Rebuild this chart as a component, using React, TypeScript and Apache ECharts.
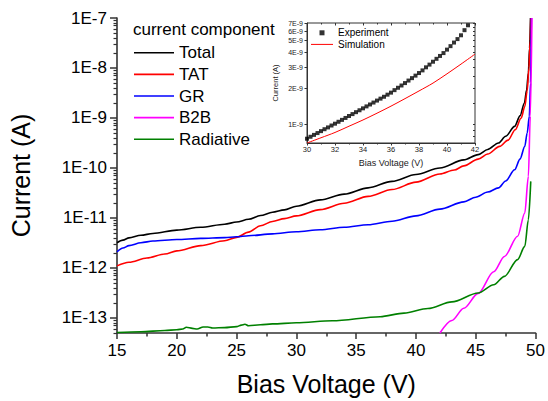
import { useEffect, useRef } from "react";
import * as echarts from "echarts";

// Main plot: Bias voltage (V) vs current (A)
const totalV = [15, 15.5, 16, 17, 18, 20, 22, 24, 25, 26, 27, 28, 29, 30, 32, 34, 36, 38, 40, 42, 44, 45.2, 46, 46.9, 47.5, 48.25, 48.7, 49.07, 49.25, 49.4, 49.5, 49.58];
const totalI = [3.2e-12, 3.6e-12, 4.0e-12, 4.5e-12, 4.9e-12, 5.7e-12, 6.5e-12, 7.5e-12, 8.3e-12, 9.4e-12, 1.12e-11, 1.3e-11, 1.45e-11, 1.72e-11, 2.3e-11, 3.0e-11, 4.0e-11, 5.4e-11, 7.4e-11, 1.0e-10, 1.45e-10, 1.85e-10, 2.35e-10, 3.16e-10, 4.3e-10, 6.8e-10, 1.1e-9, 2.0e-9, 3.6e-9, 7.9e-9, 2.5e-8, 1.0e-7];

const tatV = [15, 16, 17.5, 19, 20, 22, 24, 25, 26, 27, 28, 29, 30, 32, 34, 36, 38, 40, 42, 43.2, 44, 45.2, 46, 47, 47.7, 48.3, 48.8, 49.1, 49.3, 49.45, 49.55, 49.6];
const tatI = [1.1e-12, 1.3e-12, 1.58e-12, 1.9e-12, 2.2e-12, 2.8e-12, 3.5e-12, 4.1e-12, 5.2e-12, 7.0e-12, 8.5e-12, 9.7e-12, 1.1e-11, 1.47e-11, 1.97e-11, 2.7e-11, 3.7e-11, 5.2e-11, 7.6e-11, 9.1e-11, 1.1e-10, 1.5e-10, 1.9e-10, 2.7e-10, 3.6e-10, 5.8e-10, 1.0e-9, 1.7e-9, 3.5e-9, 1.0e-8, 3.5e-8, 1.0e-7];

const grV = [15, 15.5, 16, 17, 18, 20, 22, 24, 25, 26, 28, 30, 32, 34, 36, 38, 40, 42, 44, 45, 46, 46.9, 47.5, 48.25, 48.7, 49.1, 49.3, 49.48, 49.58, 49.65];
const grI = [2.1e-12, 2.5e-12, 2.8e-12, 3.2e-12, 3.45e-12, 3.7e-12, 3.9e-12, 4.05e-12, 4.2e-12, 4.4e-12, 4.8e-12, 5.3e-12, 5.8e-12, 6.5e-12, 7.3e-12, 8.6e-12, 1.1e-11, 1.5e-11, 2.1e-11, 2.6e-11, 3.3e-11, 4.0e-11, 5.5e-11, 9.2e-11, 1.5e-10, 2.7e-10, 5.0e-10, 1.08e-9, 5.0e-9, 1.0e-7];

const b2bV = [42.0, 43, 44, 45.2, 46.5, 47.4, 48.5, 49.1, 49.4, 49.56, 49.7];
const b2bI = [5.0e-14, 8.9e-14, 1.56e-13, 3.1e-13, 8.4e-13, 1.7e-12, 4.3e-12, 1.26e-11, 6.8e-11, 1.08e-9, 1.0e-7];

const radV = [15, 17, 19, 20, 20.5, 20.8, 21.3, 21.7, 22.2, 22.6, 23, 24, 25, 25.4, 25.7, 26, 27, 28, 30, 33, 37, 39, 41, 43, 45.2, 46.5, 47.4, 48.5, 49.1, 49.4, 49.6];
const radI = [5.1e-14, 5.3e-14, 5.6e-14, 5.8e-14, 6.0e-14, 6.5e-14, 6.2e-14, 6.0e-14, 6.6e-14, 6.6e-14, 6.3e-14, 6.4e-14, 6.7e-14, 7.2e-14, 7.5e-14, 7.0e-14, 7.3e-14, 7.6e-14, 8.0e-14, 8.8e-14, 1.06e-13, 1.25e-13, 1.55e-13, 2.1e-13, 3.16e-13, 4.6e-13, 6.8e-13, 1.47e-12, 2.7e-12, 9.2e-12, 5.4e-11];

// Inset: experiment vs simulation
const expV = [30.0, 30.25, 30.5, 30.75, 31.0, 31.25, 31.5, 31.75, 32.0, 32.25, 32.5, 32.75, 33.0, 33.25, 33.5, 33.75, 34.0, 34.25, 34.5, 34.75, 35.0, 35.25, 35.5, 35.75, 36.0, 36.25, 36.5, 36.75, 37.0, 37.25, 37.5, 37.75, 38.0, 38.25, 38.5, 38.75, 39.0, 39.25, 39.5, 39.75, 40.0, 40.25, 40.5, 40.75, 41.0, 41.25, 41.5];
const expI = [7.60e-10, 7.89e-10, 8.18e-10, 8.47e-10, 8.79e-10, 9.12e-10, 9.44e-10, 9.79e-10, 1.014e-9, 1.052e-9, 1.091e-9, 1.132e-9, 1.175e-9, 1.219e-9, 1.265e-9, 1.312e-9, 1.361e-9, 1.413e-9, 1.466e-9, 1.521e-9, 1.58e-9, 1.64e-9, 1.70e-9, 1.77e-9, 1.84e-9, 1.93e-9, 2.02e-9, 2.11e-9, 2.21e-9, 2.32e-9, 2.43e-9, 2.55e-9, 2.68e-9, 2.82e-9, 2.99e-9, 3.15e-9, 3.33e-9, 3.52e-9, 3.72e-9, 3.93e-9, 4.20e-9, 4.49e-9, 4.81e-9, 5.14e-9, 5.53e-9, 6.10e-9, 6.70e-9];

const simV = [30, 31, 32, 33, 34, 35, 36, 37, 38, 39, 40, 41, 42];
const simI = [7.0e-10, 7.74e-10, 8.57e-10, 9.66e-10, 1.089e-9, 1.24e-9, 1.42e-9, 1.64e-9, 1.90e-9, 2.21e-9, 2.64e-9, 3.18e-9, 3.85e-9];

// Tick values
const mainYTicks = [1e-13, 1e-12, 1e-11, 1e-10, 1e-9, 1e-8, 1e-7];
const minorMultipliers = [2, 3, 4, 5, 6, 7, 8, 9];
const minorDecades = [-14, -13, -12, -11, -10, -9, -8];
const insetYTicks = [1e-9, 2e-9, 3e-9, 4e-9, 5e-9, 6e-9, 7e-9];
const insetYMinor = [8e-10, 9e-10, 1e-9, 1.5e-9, 2e-9, 2.5e-9, 3e-9, 3.5e-9, 4e-9, 4.5e-9, 5e-9, 5.5e-9, 6e-9, 6.5e-9, 7e-9];

const FONT = "'Liberation Sans', Arial, Helvetica, sans-serif";
const AX = "#333";

const zip = (xs: number[], ys: number[]) => xs.map((x, i) => [x, ys[i]]);

const mainMinor: number[] = [];
minorDecades.forEach((k) => {
  minorMultipliers.forEach((m) => {
    const v = m * Math.pow(10, k);
    if (v >= 5e-14 && v <= 1e-7) mainMinor.push(v);
  });
});

export default function App() {
  const ref = useRef<HTMLDivElement>(null);
  useEffect(() => {
    if (!ref.current) return;
    const chart = echarts.init(ref.current, undefined, { renderer: "svg" });
    const lineSeries = (name: string, xs: number[], ys: number[], color: string) => ({
      name,
      type: "line",
      xAxisIndex: 0,
      yAxisIndex: 0,
      data: zip(xs, ys),
      symbol: "none",
      smooth: 0.3,
      smoothMonotone: "x",
      lineStyle: { color, width: 1.6 },
      itemStyle: { color },
      z: 3,
    });
    const mainIcon = "path://M0,0H40V1.6H0Z";
    const option: any = {
      animation: false,
      backgroundColor: "#fff",
      textStyle: { fontFamily: FONT, color: "#000" },
      grid: [
        { left: 112, top: 18, width: 426, height: 315 },
        { left: 307, top: 23, width: 168, height: 120, show: true, borderColor: AX, borderWidth: 1, backgroundColor: "#fff", z: 5 },
      ],
      xAxis: [
        {
          gridIndex: 0, type: "value", min: 15, max: 50, interval: 5, position: "bottom",
          name: "Bias Voltage (V)", nameLocation: "middle", nameGap: 38,
          nameTextStyle: { fontSize: 25, color: "#000", fontFamily: FONT },
          axisLine: { lineStyle: { color: AX, width: 1.6 } },
          axisTick: { length: 6, lineStyle: { color: AX, width: 1.5 } },
          minorTick: { show: true, splitNumber: 2, length: 3.5, lineStyle: { color: AX, width: 1.5 } },
          axisLabel: { fontSize: 17, color: "#000", margin: 9, fontFamily: FONT },
          splitLine: { show: false },
        },
        {
          gridIndex: 1, type: "value", min: 30, max: 42, interval: 2, position: "bottom",
          name: "Bias Voltage (V)", nameLocation: "middle", nameGap: 15,
          nameTextStyle: { fontSize: 9, color: "#222", fontFamily: FONT },
          axisLine: { lineStyle: { color: AX, width: 1 } },
          axisTick: { length: 2.5, lineStyle: { color: AX, width: 1 } },
          minorTick: { show: true, splitNumber: 2, length: 1.5, lineStyle: { color: AX, width: 1 } },
          axisLabel: { fontSize: 7.5, color: "#222", margin: 2, fontFamily: FONT },
          splitLine: { show: false },
          z: 6,
        },
        {
          gridIndex: 1, type: "value", min: 30, max: 42, interval: 2, position: "top",
          axisLine: { show: false },
          axisTick: { inside: true, length: 2.5, lineStyle: { color: AX, width: 1 } },
          minorTick: { show: true, splitNumber: 2, length: 1.5, lineStyle: { color: AX, width: 1 } },
          axisLabel: { show: false },
          splitLine: { show: false },
          z: 6,
        },
      ],
      yAxis: [
        {
          gridIndex: 0, type: "log", min: 5e-14, max: 1e-7, position: "left",
          name: "Current (A)", nameLocation: "middle", nameGap: 84,
          nameTextStyle: { fontSize: 25, color: "#000", fontFamily: FONT },
          axisLine: { show: true, lineStyle: { color: AX, width: 1.6 } },
          axisTick: { customValues: mainYTicks, length: 7, lineStyle: { color: AX, width: 1.5 } },
          axisLabel: {
            customValues: mainYTicks, fontSize: 17, color: "#000", margin: 10, fontFamily: FONT,
            formatter: (v: number) => "1E" + Math.round(Math.log10(v)),
          },
          splitLine: { show: false },
        },
        {
          gridIndex: 0, type: "log", min: 5e-14, max: 1e-7, position: "left",
          axisLine: { show: false },
          axisTick: { customValues: mainMinor, length: 3.5, lineStyle: { color: AX, width: 1.2 } },
          axisLabel: { show: false },
          splitLine: { show: false },
        },
        {
          gridIndex: 1, type: "log", min: 7e-10, max: 7e-9, position: "left",
          name: "Current (A)", nameLocation: "middle", nameGap: 28,
          nameTextStyle: { fontSize: 7.5, color: "#222", fontFamily: FONT },
          axisLine: { show: true, lineStyle: { color: AX, width: 1 } },
          axisTick: { customValues: insetYTicks, length: 2.5, lineStyle: { color: AX, width: 1 } },
          axisLabel: {
            customValues: insetYTicks, fontSize: 7, color: "#222", margin: 4, fontFamily: FONT,
            formatter: (v: number) => Math.round(v / 1e-9) + "E-9",
          },
          splitLine: { show: false },
          z: 6,
        },
        {
          gridIndex: 1, type: "log", min: 7e-10, max: 7e-9, position: "right",
          axisLine: { show: false },
          axisTick: { inside: true, customValues: insetYMinor, length: 2, lineStyle: { color: AX, width: 1 } },
          axisLabel: { show: false },
          splitLine: { show: false },
          z: 6,
        },
      ],
      legend: [
        {
          data: [
            { name: "Total", icon: mainIcon },
            { name: "TAT", icon: mainIcon },
            { name: "GR", icon: mainIcon },
            { name: "B2B", icon: mainIcon },
            { name: "Radiative", icon: mainIcon },
          ],
          orient: "vertical", left: 134, top: 42, padding: 0, itemWidth: 40, itemHeight: 12, itemGap: 0,
          textStyle: { fontSize: 17, lineHeight: 21.6, color: "#000", fontFamily: FONT },
          selectedMode: false,
        },
        {
          data: [
            { name: "Experiment", icon: "path://M0,0H5V5H0Z" },
            { name: "Simulation", icon: "path://M0,0H22V1H0Z" },
          ],
          orient: "vertical", left: 311, top: 27, padding: 0, itemWidth: 22, itemHeight: 5, itemGap: 0,
          textStyle: { fontSize: 10, lineHeight: 11.6, color: "#000", fontFamily: FONT },
          selectedMode: false,
          z: 10,
        },
      ],
      graphic: [
        {
          type: "text", left: 133, top: 21,
          style: { text: "current component", fontSize: 17, fill: "#000", fontFamily: FONT },
        },
      ],
      series: [
        lineSeries("Total", totalV, totalI, "#000000"),
        lineSeries("TAT", tatV, tatI, "#ff0000"),
        lineSeries("GR", grV, grI, "#0000ff"),
        lineSeries("B2B", b2bV, b2bI, "#ff00ff"),
        lineSeries("Radiative", radV, radI, "#008000"),
        {
          name: "Experiment", type: "scatter", xAxisIndex: 1, yAxisIndex: 2,
          data: zip(expV, expI), symbol: "rect", symbolSize: 4,
          itemStyle: { color: "#000" }, z: 8,
        },
        {
          name: "Simulation", type: "line", xAxisIndex: 1, yAxisIndex: 2,
          data: zip(simV, simI), symbol: "none", smooth: 0.3,
          lineStyle: { color: "#ff0000", width: 1 }, itemStyle: { color: "#ff0000" }, z: 8,
        },
      ],
    };
    chart.setOption(option);
    return () => chart.dispose();
  }, []);
  return <div ref={ref} style={{ width: 548, height: 401, position: "absolute", left: 0, top: 0 }} />;
}
